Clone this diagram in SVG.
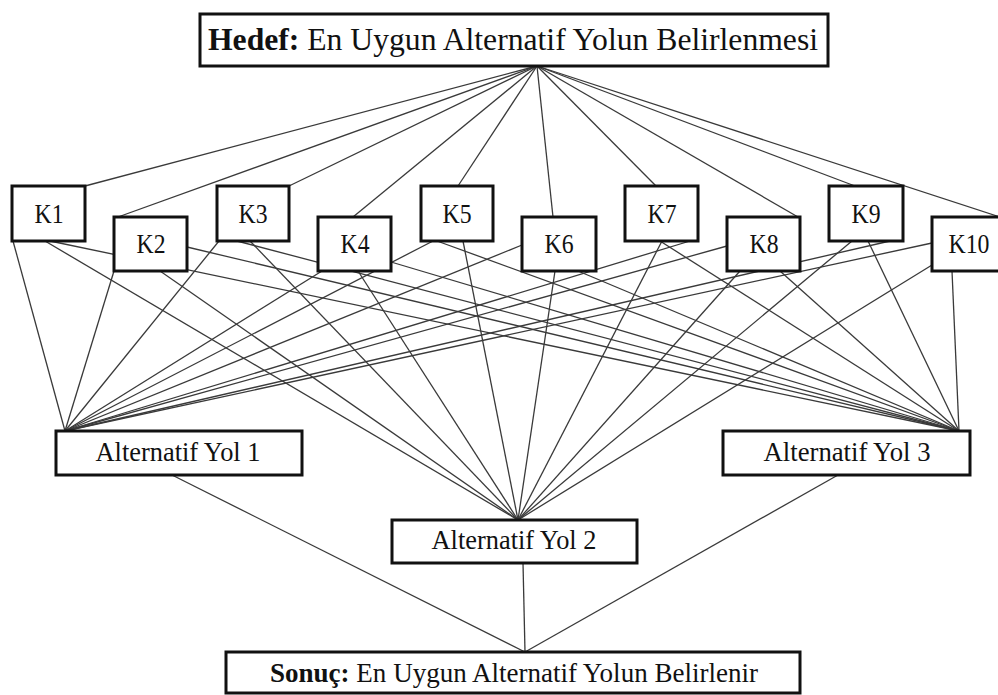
<svg xmlns="http://www.w3.org/2000/svg" width="998" height="695" viewBox="0 0 998 695">
<style>
.c line{stroke:#3a3a3a;stroke-width:1.3;fill:none}
.b{fill:#fff;stroke:#111;stroke-width:3}
.t{font-family:"Liberation Serif","Times New Roman",serif;fill:#111;text-anchor:middle}
.k{font-size:27px}
.a{font-size:28px}
</style>
<rect width="998" height="695" fill="#fff"/>
<g id="connectors" class="c">
<line x1="537" y1="66" x2="85" y2="186"/>
<line x1="537" y1="66" x2="118" y2="217"/>
<line x1="537" y1="66" x2="289" y2="186"/>
<line x1="537" y1="66" x2="353" y2="217"/>
<line x1="537" y1="66" x2="458" y2="186"/>
<line x1="537" y1="66" x2="553" y2="217"/>
<line x1="537" y1="66" x2="656" y2="186"/>
<line x1="537" y1="66" x2="798" y2="217"/>
<line x1="537" y1="66" x2="855" y2="186"/>
<line x1="537" y1="66" x2="1000" y2="217"/>
<line x1="13" y1="241" x2="65" y2="431"/>
<line x1="114" y1="271" x2="65" y2="431"/>
<line x1="219" y1="241" x2="65" y2="431"/>
<line x1="322" y1="271" x2="65" y2="431"/>
<line x1="433" y1="241" x2="65" y2="431"/>
<line x1="522" y1="245" x2="65" y2="431"/>
<line x1="690" y1="241" x2="65" y2="431"/>
<line x1="727" y1="246" x2="65" y2="431"/>
<line x1="890" y1="241" x2="65" y2="431"/>
<line x1="932" y1="243" x2="65" y2="431"/>
<line x1="45" y1="241" x2="518" y2="520"/>
<line x1="160" y1="271" x2="518" y2="520"/>
<line x1="250" y1="241" x2="518" y2="520"/>
<line x1="358" y1="271" x2="518" y2="520"/>
<line x1="463" y1="241" x2="518" y2="520"/>
<line x1="555" y1="271" x2="518" y2="520"/>
<line x1="662" y1="241" x2="518" y2="520"/>
<line x1="740" y1="271" x2="518" y2="520"/>
<line x1="852" y1="241" x2="518" y2="520"/>
<line x1="932" y1="265" x2="518" y2="520"/>
<line x1="50" y1="241" x2="959" y2="431"/>
<line x1="187" y1="247" x2="959" y2="431"/>
<line x1="237" y1="241" x2="959" y2="431"/>
<line x1="391" y1="262" x2="959" y2="431"/>
<line x1="437" y1="241" x2="959" y2="431"/>
<line x1="578" y1="271" x2="959" y2="431"/>
<line x1="660" y1="241" x2="959" y2="431"/>
<line x1="780" y1="271" x2="959" y2="431"/>
<line x1="868" y1="241" x2="959" y2="431"/>
<line x1="952" y1="271" x2="959" y2="431"/>
<line x1="172" y1="475" x2="525" y2="652"/>
<line x1="523" y1="563" x2="525" y2="652"/>
<line x1="838" y1="475" x2="525" y2="652"/>
</g>
<g id="hedef"><rect class="b" x="200" y="14" width="628" height="52"/><text class="t" x="513" y="50" font-size="32" textLength="610" lengthAdjust="spacingAndGlyphs"><tspan font-weight="bold">Hedef:</tspan> En Uygun Alternatif Yolun Belirlenmesi</text></g>
<g id="k1"><rect class="b" x="12" y="186" width="73" height="55"/><text class="t k" x="49" y="223" textLength="29" lengthAdjust="spacingAndGlyphs">K1</text></g>
<g id="k2"><rect class="b" x="114" y="217" width="73" height="54"/><text class="t k" x="151" y="253" textLength="29" lengthAdjust="spacingAndGlyphs">K2</text></g>
<g id="k3"><rect class="b" x="217" y="186" width="72" height="55"/><text class="t k" x="253" y="223" textLength="29" lengthAdjust="spacingAndGlyphs">K3</text></g>
<g id="k4"><rect class="b" x="318" y="217" width="73" height="54"/><text class="t k" x="355" y="253" textLength="29" lengthAdjust="spacingAndGlyphs">K4</text></g>
<g id="k5"><rect class="b" x="421" y="186" width="72" height="55"/><text class="t k" x="457" y="223" textLength="29" lengthAdjust="spacingAndGlyphs">K5</text></g>
<g id="k6"><rect class="b" x="522" y="217" width="74" height="54"/><text class="t k" x="559" y="253" textLength="29" lengthAdjust="spacingAndGlyphs">K6</text></g>
<g id="k7"><rect class="b" x="625" y="186" width="73" height="55"/><text class="t k" x="662" y="223" textLength="29" lengthAdjust="spacingAndGlyphs">K7</text></g>
<g id="k8"><rect class="b" x="727" y="217" width="73" height="54"/><text class="t k" x="764" y="253" textLength="29" lengthAdjust="spacingAndGlyphs">K8</text></g>
<g id="k9"><rect class="b" x="829" y="186" width="74" height="55"/><text class="t k" x="866" y="223" textLength="29" lengthAdjust="spacingAndGlyphs">K9</text></g>
<g id="k10"><rect class="b" x="932" y="217" width="75" height="54"/><text class="t k" x="969" y="253" textLength="41" lengthAdjust="spacingAndGlyphs">K10</text></g>
<g id="alt1"><rect class="b" x="56" y="431" width="246" height="44"/><text class="t a" x="178" y="461" textLength="165" lengthAdjust="spacingAndGlyphs">Alternatif Yol 1</text></g>
<g id="alt2"><rect class="b" x="392" y="520" width="245" height="43"/><text class="t a" x="514" y="549" textLength="165" lengthAdjust="spacingAndGlyphs">Alternatif Yol 2</text></g>
<g id="alt3"><rect class="b" x="723" y="431" width="247" height="44"/><text class="t a" x="847" y="461" textLength="167" lengthAdjust="spacingAndGlyphs">Alternatif Yol 3</text></g>
<g id="sonuc"><rect class="b" x="226" y="652" width="574" height="41"/><text class="t" x="514" y="682" font-size="28" textLength="488" lengthAdjust="spacingAndGlyphs"><tspan font-weight="bold">Sonuç:</tspan> En Uygun Alternatif Yolun Belirlenir</text></g>
</svg>
